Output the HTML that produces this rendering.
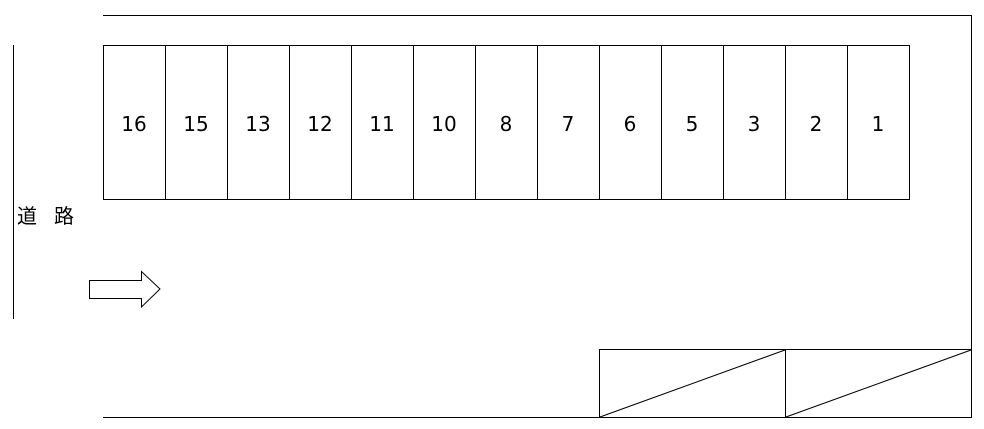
<!DOCTYPE html>
<html><head><meta charset="utf-8"><style>
html,body{margin:0;padding:0;background:#fff;}
svg{display:block;}
text{font-family:"DejaVu Sans","Liberation Sans","Noto Sans CJK JP",sans-serif;font-size:20px;fill:#000;}
</style></head><body>
<svg width="984" height="429" viewBox="0 0 984 429" xmlns="http://www.w3.org/2000/svg">
<g stroke="#000" stroke-width="1.3" fill="none" shape-rendering="crispEdges">
<polyline points="103,15.5 971.5,15.5 971.5,417.5 103,417.5"/>
<line x1="13.5" y1="45" x2="13.5" y2="319"/>
<rect x="103.5" y="45.5" width="806" height="154"/>
<line x1="165.5" y1="45" x2="165.5" y2="199"/>
<line x1="227.5" y1="45" x2="227.5" y2="199"/>
<line x1="289.5" y1="45" x2="289.5" y2="199"/>
<line x1="351.5" y1="45" x2="351.5" y2="199"/>
<line x1="413.5" y1="45" x2="413.5" y2="199"/>
<line x1="475.5" y1="45" x2="475.5" y2="199"/>
<line x1="537.5" y1="45" x2="537.5" y2="199"/>
<line x1="599.5" y1="45" x2="599.5" y2="199"/>
<line x1="661.5" y1="45" x2="661.5" y2="199"/>
<line x1="723.5" y1="45" x2="723.5" y2="199"/>
<line x1="785.5" y1="45" x2="785.5" y2="199"/>
<line x1="847.5" y1="45" x2="847.5" y2="199"/>
<rect x="599.5" y="349.5" width="186" height="68"/>
<rect x="785.5" y="349.5" width="186" height="68"/>
</g>
<g stroke="#000" stroke-width="1" fill="none">
<line x1="600" y1="417" x2="785" y2="350"/>
<line x1="786" y1="417" x2="971" y2="350"/>
<polygon points="89.5,280.5 141.5,280.5 141.5,271.5 160,289 141.5,307 141.5,298.5 89.5,298.5"/>
</g>
<g text-anchor="middle">
<text x="134" y="131">16</text>
<text x="196" y="131">15</text>
<text x="258" y="131">13</text>
<text x="320" y="131">12</text>
<text x="382" y="131">11</text>
<text x="444" y="131">10</text>
<text x="506" y="131">8</text>
<text x="568" y="131">7</text>
<text x="630" y="131">6</text>
<text x="692" y="131">5</text>
<text x="754" y="131">3</text>
<text x="816" y="131">2</text>
<text x="878" y="131">1</text>
</g>
<text x="17" y="223" style="font-family:'Noto Sans CJK JP','WenQuanYi Zen Hei',sans-serif;font-size:20px;">道</text>
<text x="54" y="223" style="font-family:'Noto Sans CJK JP','WenQuanYi Zen Hei',sans-serif;font-size:20px;">路</text>
</svg>
</body></html>
